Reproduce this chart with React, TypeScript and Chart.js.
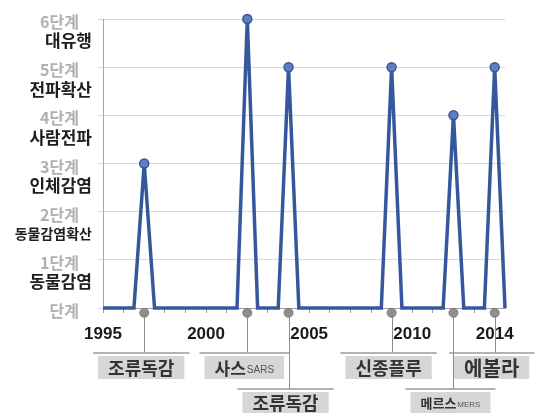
import React, { useEffect, useRef } from "react";
import { Chart, registerables } from "chart.js";

Chart.register(...registerables);

// ---- data ----
const years = [
  1995, 1995.5, 1996, 1996.5, 1997, 1997.5, 1998, 1998.5, 1999, 1999.5,
  2000, 2000.5, 2001, 2001.5, 2002, 2002.5, 2003, 2003.5, 2004, 2004.5,
  2005, 2005.5, 2006, 2006.5, 2007, 2007.5, 2008, 2008.5, 2009, 2009.5,
  2010, 2010.5, 2011, 2011.5, 2012, 2012.5, 2013, 2013.5, 2014, 2014.5,
];
const levels = [
  0, 0, 0, 0, 3, 0, 0, 0, 0, 0,
  0, 0, 0, 0, 6, 0, 0, 0, 5, 0,
  0, 0, 0, 0, 0, 0, 0, 0, 5, 0,
  0, 0, 0, 0, 4, 0, 0, 0, 5, 0,
];
const yearTicks = [
  1995, 1996, 1997, 1998, 1999, 2000, 2001, 2002, 2003, 2004,
  2005, 2006, 2007, 2008, 2009, 2010, 2011, 2012, 2013, 2014,
];
const yearLabels = [1995, 2000, 2005, 2010, 2014];
const stageSteps = ["단계", "1단계", "2단계", "3단계", "4단계", "5단계", "6단계"];
const stageNames = ["", "동물감염", "동물감염확산", "인체감염", "사람전파", "전파확산", "대유행"];
const eventYears = [1997, 2002, 2004, 2009, 2012, 2014];
const eventNames = ["조류독감", "사스", "조류독감", "신종플루", "메르스", "에볼라"];
const eventSubs = ["", "SARS", "", "", "MERS", ""];

// ---- layout / style (not data) ----
const eventRow = [0, 0, 1, 0, 1, 0];
const eventFontSize = [18, 17, 18, 18, 13, 20];
const KR = '"Noto Sans CJK KR", "Noto Sans", sans-serif';

const overlayPlugin = {
  id: "overlay",
  afterDraw(chart: any) {
    const ctx = chart.ctx as CanvasRenderingContext2D;
    const xs = chart.scales.x;
    const ys = chart.scales.y;
    ctx.save();
    // y-axis stage labels
    for (let v = 0; v < stageSteps.length; v++) {
      const py = ys.getPixelForValue(v);
      ctx.textAlign = "right";
      ctx.textBaseline = "middle";
      ctx.fillStyle = "#b0b0b0";
      ctx.font = `bold 16px ${KR}`;
      ctx.fillText(stageSteps[v], 79, py + 3);
      if (stageNames[v]) {
        ctx.fillStyle = "#1e1e1e";
        ctx.font = `bold ${v === 2 ? 14 : 17}px ${KR}`;
        ctx.fillText(stageNames[v], 92, py + 22);
      }
    }
    // annotations
    const bottom = chart.chartArea.bottom;
    const dotY = ys.getPixelForValue(0) + 5;
    for (let i = 0; i < eventYears.length; i++) {
      const dx = xs.getPixelForValue(eventYears[i]);
      const row = eventRow[i];
      const barY = bottom + (row === 0 ? 45 : 81);
      const boxH = row === 0 ? 23 : 21;
      const fs = eventFontSize[i];
      ctx.font = `bold ${fs}px ${KR}`;
      const mainW = ctx.measureText(eventNames[i]).width;
      let subW = 0;
      if (eventSubs[i]) {
        ctx.font = `${Math.round(fs * 0.6)}px "Liberation Sans", sans-serif`;
        subW = ctx.measureText(eventSubs[i]).width + 1;
      }
      const textW = mainW + subW;
      const boxW = textW + 20;
      const boxL = dx - 3 - boxW / 2;
      // connector
      ctx.strokeStyle = "#8c8c8c";
      ctx.lineWidth = 1;
      ctx.beginPath();
      ctx.moveTo(Math.round(dx) + 0.5, dotY + 4);
      ctx.lineTo(Math.round(dx) + 0.5, barY);
      ctx.stroke();
      // bar
      ctx.strokeStyle = "#9a9a9a";
      ctx.lineWidth = 1.5;
      ctx.beginPath();
      ctx.moveTo(boxL - 5, barY);
      ctx.lineTo(boxL + boxW + 5, barY);
      ctx.stroke();
      // box
      ctx.fillStyle = "#d6d6d6";
      ctx.fillRect(boxL, barY + 3, boxW, boxH);
      // text
      const cy = barY + 3 + boxH / 2;
      const tx = boxL + (boxW - textW) / 2;
      ctx.textAlign = "left";
      ctx.textBaseline = "middle";
      ctx.fillStyle = "#333333";
      ctx.font = `bold ${fs}px ${KR}`;
      ctx.fillText(eventNames[i], tx, cy + 1);
      if (eventSubs[i]) {
        ctx.fillStyle = "#555555";
        ctx.font = `${Math.round(fs * 0.6)}px "Liberation Sans", sans-serif`;
        ctx.textBaseline = "alphabetic";
        ctx.fillText(eventSubs[i], tx + mainW + 1, cy + fs * 0.35);
      }
    }
    ctx.restore();
  },
};

export default function App() {
  const ref = useRef<HTMLCanvasElement>(null);
  useEffect(() => {
    if (!ref.current) return;
    const chart = new Chart(ref.current, {
      type: "line",
      data: {
        datasets: [
          {
            type: "scatter",
            data: eventYears.map((x) => ({ x, y: -0.1 })),
            pointRadius: 4.5,
            pointBackgroundColor: "#8e8e8e",
            pointBorderColor: "#7c7c7c",
            pointBorderWidth: 1,
            clip: false,
            order: 0,
          } as any,
          {
            type: "line",
            data: years.map((x, i) => ({ x, y: levels[i] })),
            borderColor: "#34589b",
            borderWidth: 3.5,
            tension: 0,
            pointRadius: (c: any) => (levels[c.dataIndex] > 0 ? 4.5 : 0),
            pointBackgroundColor: "#5f7fbd",
            pointBorderColor: "#34589b",
            pointBorderWidth: 1.5,
            clip: false,
            order: 1,
          } as any,
        ],
      },
      options: {
        responsive: false,
        animation: false,
        layout: { padding: { left: 0, right: 33, top: 19, bottom: 0 } },
        plugins: { legend: { display: false }, tooltip: { enabled: false } },
        scales: {
          x: {
            type: "linear",
            min: 1995,
            max: 2014.5,
            afterBuildTicks: (s: any) => {
              s.ticks = yearTicks.map((v) => ({ value: v }));
            },
            afterFit: (s: any) => {
              s.height = 108;
            },
            ticks: {
              autoSkip: false,
              maxRotation: 0,
              padding: 11,
              color: "#1a1a1a",
              font: { family: '"Liberation Sans", Arial, sans-serif', size: 17, weight: "bold" },
              callback: (v: any) => (yearLabels.includes(Number(v)) ? String(v) : ""),
            },
            grid: {
              drawOnChartArea: false,
              drawTicks: true,
              tickLength: 5,
              color: "#9a9a9a",
            },
            border: { display: true, color: "#9a9a9a" },
          },
          y: {
            type: "linear",
            min: 0,
            max: 6,
            afterFit: (s: any) => {
              s.width = 103;
            },
            ticks: { stepSize: 1, display: false },
            grid: { color: "#d9d9d9", tickLength: 5, drawTicks: true },
            border: { display: true, color: "#a6a6a6" },
          },
        },
      },
      plugins: [overlayPlugin],
    });
    return () => chart.destroy();
  }, []);
  return (
    <div style={{ position: "absolute", left: 0, top: 0, width: 538, height: 416, background: "#fff" }}>
      <canvas ref={ref} width={538} height={416} />
    </div>
  );
}
